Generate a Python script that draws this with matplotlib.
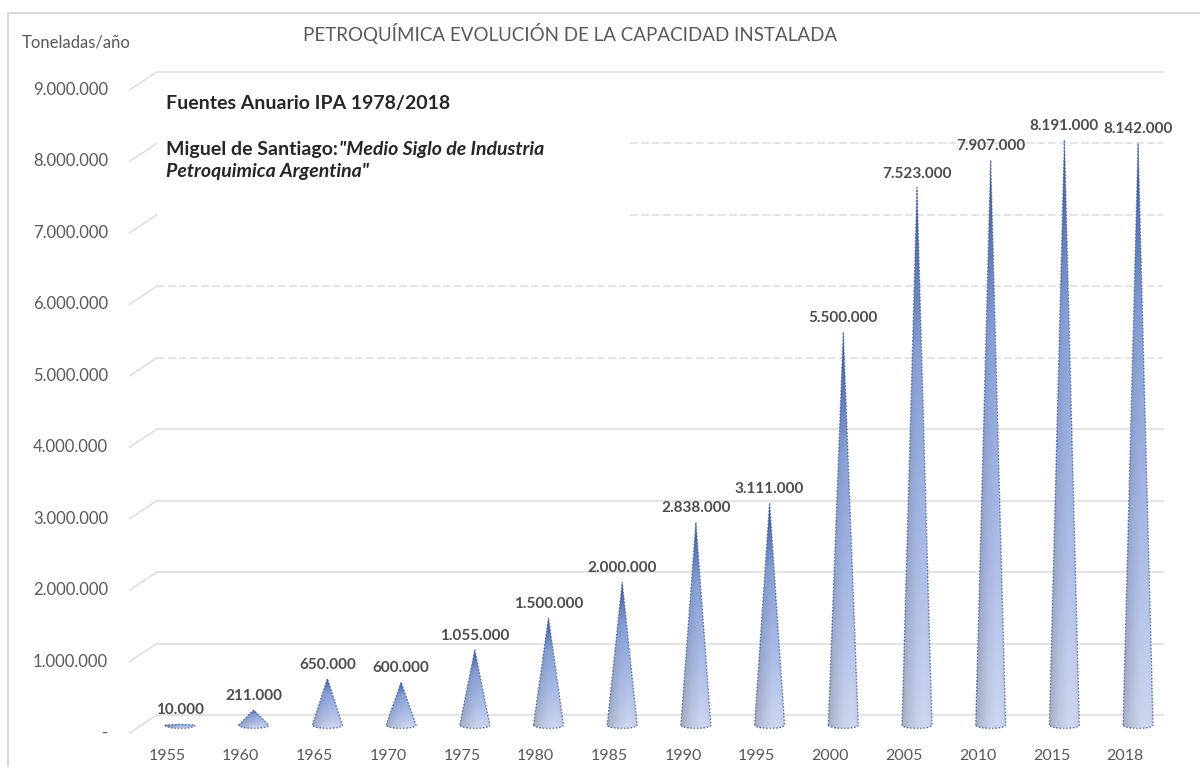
import numpy as np
import matplotlib
matplotlib.use("Agg")
import matplotlib.pyplot as plt
from matplotlib.patches import PathPatch, Rectangle
from matplotlib.path import Path
from matplotlib.colors import to_rgb
from matplotlib.transforms import ScaledTranslation

# ---- data -------------------------------------------------------------
years = ["1955", "1960", "1965", "1970", "1975", "1980", "1985",
         "1990", "1995", "2000", "2005", "2010", "2015", "2018"]
capacity = [10000, 211000, 650000, 600000, 1055000, 1500000, 2000000,
            2838000, 3111000, 5500000, 7523000, 7907000, 8191000, 8142000]
y_ticks = [0, 1000000, 2000000, 3000000, 4000000, 5000000,
           6000000, 7000000, 8000000, 9000000]

title = "PETROQUÍMICA EVOLUCIÓN DE LA CAPACIDAD INSTALADA"
unit_label = "Toneladas/año"
source_line = "Fuentes Anuario IPA 1978/2018"
author = "Miguel de Santiago:"
book_l1 = "\"Medio Siglo de Industria"
book_l2 = "Petroquimica Argentina\""

FONT = ["Lato", "DejaVu Sans"]
plt.rcParams["font.family"] = FONT

W, H, DPI = 1200, 767, 100
fig = plt.figure(figsize=(W / DPI, H / DPI), dpi=DPI, facecolor="white")

# axes geometry in pixels (plane in which the cones stand)
xmin, xmax = -0.5, 13.6
ymin, ymax = -140000, 9000000
ax_left_px, ax_right_px = 143.15, 1182.3
ax_top_px, ax_bot_px = 82.0, 735.0
ax = fig.add_axes([ax_left_px / W, (H - ax_bot_px) / H,
                   (ax_right_px - ax_left_px) / W, (ax_bot_px - ax_top_px) / H])
ax.set_facecolor("none")
for s in ax.spines.values():
    s.set_visible(False)

PX_X = (ax_right_px - ax_left_px) / (xmax - xmin)
PX_Y = (ax_bot_px - ax_top_px) / (ymax - ymin)

# depth offsets (pixels) of the back wall and the front edge
BACK_DX, BACK_DY = 13.5, 10.0
FRONT_DX, FRONT_DY = -13.5, -8.0

grid_c = "#dcdcdc"
x_pos = np.arange(len(years))

# back-wall gridlines + slanted side-wall strokes
for v in y_ticks:
    bx, by = BACK_DX / PX_X, BACK_DY / PX_Y
    fx, fy = FRONT_DX / PX_X, FRONT_DY / PX_Y
    mil = v // 1000000
    start = -0.5
    if mil in (7, 8):
        start = 5.92  # hidden behind the source note box
    ls = (0, (5, 2.2)) if mil in (5, 6, 7, 8) else "-"
    ax.plot([start + bx, 13.15 + bx], [v + by, v + by], color=grid_c, lw=1.1,
            ls=ls, clip_on=False, zorder=1)
    ax.plot([-0.5 + fx, -0.5 + bx], [v + fy, v + by], color=grid_c, lw=1.1,
            clip_on=False, zorder=1)
    lab = "-" if v == 0 else f"{v:,}".replace(",", ".")
    ax.text(-0.5 - (ax_left_px - 108) / PX_X, v + fy, lab, ha="right",
            va="center", fontsize=12, color="#595959")


# cone gradient colours
stops_t = [0.0, 0.3, 0.7, 1.0]
stops_c = [to_rgb("#d3ddf7"), to_rgb("#b2c3ef"), to_rgb("#8ea7e0"),
           to_rgb("#3f5ea6")]


def gradient_image(nv=120, nh=60):
    t = np.linspace(0, 1, nv)[:, None]
    u = np.linspace(0, 1, nh)[None, :]
    img = np.zeros((nv, nh, 3))
    for k in range(3):
        img[:, :, k] = np.interp(t, stops_t, [c[k] for c in stops_c])
    shade = 1.0 - 0.22 * (1 - u) ** 2 - 0.08 * u ** 6
    img = img * shade[:, :, None]
    return np.clip(img, 0, 1)


half_w = 15.0 / PX_X
ell_h = 3.5 / PX_Y
grad = gradient_image()
for xc, val in zip(x_pos, capacity):
    th = np.linspace(0, np.pi, 40)
    verts = [(xc - half_w, 0), (xc, val), (xc + half_w, 0)]
    verts += list(zip(xc + half_w * np.cos(th), -ell_h * np.sin(th)))
    verts.append(verts[0])
    codes = [Path.MOVETO] + [Path.LINETO] * (len(verts) - 2) + [Path.CLOSEPOLY]
    path = Path(verts, codes)
    patch = PathPatch(path, facecolor="none", edgecolor="#34508c", lw=1.0,
                      alpha=0.7, ls=(0, (1.2, 1.2)), zorder=4)
    ax.add_patch(patch)
    im = ax.imshow(grad, extent=(xc - half_w, xc + half_w, -ell_h, val),
                   origin="lower", aspect="auto", interpolation="bilinear",
                   zorder=3)
    im.set_clip_path(patch)
    lab = f"{val:,}".replace(",", ".")
    ax.annotate(lab, (xc, val), xytext=(0, 14 * 72 / DPI),
                textcoords="offset points", ha="center", va="center",
                fontsize=11, fontweight="bold", color="#4d4d4d", zorder=5)

ax.set_xlim(xmin, xmax)
ax.set_ylim(ymin, ymax)
ax.set_yticks([])
ax.set_xticks(x_pos, years)
ax.tick_params(axis="x", length=0, pad=10, labelsize=11.5, labelcolor="#595959")
shift = ScaledTranslation(-13 / DPI, 0, fig.dpi_scale_trans)
for t in ax.get_xticklabels():
    t.set_transform(t.get_transform() + shift)

# titles and notes
fig.text(570 / W, 1 - 33 / H, title, ha="center", va="center", fontsize=13.5,
         color="#595959")
fig.text(22 / W, 1 - 43 / H, unit_label, ha="left", va="center", fontsize=12,
         color="#595959")
fig.text(166 / W, 1 - 103 / H, source_line, ha="left", va="center",
         fontsize=14, fontweight="bold", color="#262626")
t_auth = fig.text(166 / W, 1 - 150 / H, author, ha="left", va="center",
                  fontsize=14, fontweight="bold", color="#262626")
fig.canvas.draw()
auth_x1 = t_auth.get_window_extent().x1
fig.text((auth_x1 + 1) / W, 1 - 150 / H, book_l1, ha="left", va="center",
         fontsize=14, fontweight="bold", style="italic", color="#262626")
fig.text(166 / W, 1 - 172 / H, book_l2, ha="left", va="center", fontsize=14,
         fontweight="bold", style="italic", color="#262626")

# chart-area border
fig.patches.append(Rectangle((8 / W, -0.1), 1.2, 1.1 - 13 / H,
                             transform=fig.transFigure, fill=False,
                             ec="#d9d9d9", lw=1.5))

fig.savefig("out.png", dpi=DPI, facecolor="white")
